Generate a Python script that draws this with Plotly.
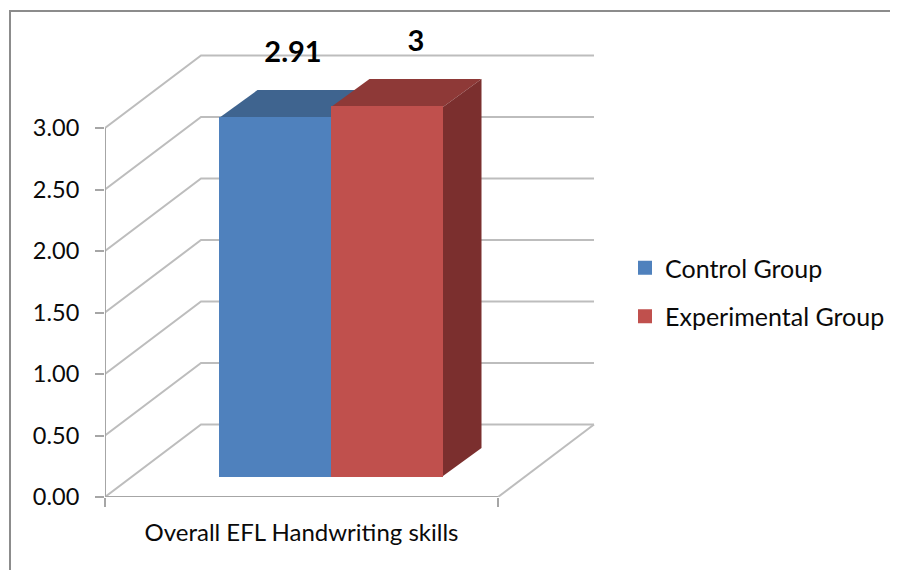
import plotly.graph_objects as go

# Data
categories = ["Overall EFL Handwriting skills"]
series_names = ["Control Group", "Experimental Group"]
series_values = [2.91, 3]
value_labels = ["2.91", "3"]
y_ticks = [0, 0.5, 1, 1.5, 2, 2.5, 3]
y_ticktext = ["0.00", "0.50", "1.00", "1.50", "2.00", "2.50", "3.00"]

# Styles
front = ["#4F81BD", "#C0504D"]
top = ["#3F648F", "#8E3937"]
side = ["#3A5F8A", "#7B2F2E"]
FONT = "Lato, Carlito, Calibri, sans-serif"
GRID = "#BDBDBD"
AXIS = "#A6A6A6"
INK = "#0A0A0A"

# The page body adds an 8 px margin, so figure pixels = reference pixels - 8
OFF = 8
W, H = 890, 562
PX_L, PX_R, PX_T, PX_B = 105 - OFF, 596 - OFF, 26 - OFF, 497 - OFF
XU, YU = 393.0, 123.0
x_range = [0, (PX_R - PX_L) / XU]
y_range = [0, (PX_B - PX_T) / YU]
wall_dx, wall_dy = 96 / XU, 72.5 / YU
bar_dx, bar_dy = 38.5 / XU, 28 / YU
bar_left, bar_w, bar_base = 114 / XU, 112 / XU, 21 / YU
lw = 1.0  # half bar outline, in px


def poly(xs, ys, **kw):
    d = "M" + "L".join(f"{a},{b}" for a, b in zip(xs, ys))
    return dict(type="path", path=d, xref="x", yref="y", layer="below", **kw)


shapes = []
# gridlines: side wall and back wall
for v in y_ticks:
    shapes.append(poly([0, wall_dx, 1 + wall_dx], [v, v + wall_dy, v + wall_dy],
                       line=dict(color=GRID, width=2)))
# floor right edge and front edge
shapes.append(poly([1, 1 + wall_dx], [0, wall_dy], line=dict(color=GRID, width=2)))
shapes.append(poly([0, 1], [0, 0], line=dict(color=AXIS, width=2)))
shapes.append(poly([0, 0], [0, y_ticks[-1]], line=dict(color=AXIS, width=2)))

# 3-D faces of the bars, from the values
for i, v in enumerate(series_values):
    x0 = bar_left + i * bar_w
    x1 = x0 + bar_w
    t = bar_base + v
    shapes.append(poly([x0, x1, x1 + bar_dx, x0 + bar_dx, x0],
                       [t, t, t + bar_dy, t + bar_dy, t],
                       fillcolor=top[i], line=dict(width=0)))
    shapes.append(poly([x1, x1 + bar_dx, x1 + bar_dx, x1, x1],
                       [t, t + bar_dy, bar_base + bar_dy, bar_base, t],
                       fillcolor=side[i], line=dict(width=0)))

# outer frame
fx = lambda p: (p - OFF - PX_L) / (PX_R - PX_L)
fy = lambda p: (PX_B - (p - OFF)) / (PX_B - PX_T)
shapes.append(dict(type="path", xref="paper", yref="paper", layer="below",
                   path=f"M{fx(10)},{fy(575)}L{fx(10)},{fy(11)}L{fx(905)},{fy(11)}",
                   line=dict(color="#8C8C8C", width=2)))

fig = go.Figure()
for i, (name, v) in enumerate(zip(series_names, series_values)):
    fig.add_trace(go.Bar(
        x=[bar_left + (i + 0.5) * bar_w], y=[v], base=bar_base, width=bar_w - 2 * lw / XU,
        name=name, legendgroup=name,
        marker=dict(color=front[i], line=dict(color=front[i], width=2 * lw)),
        hoverinfo="name+y",
    ))

label_dx = [18 / XU, 29 / XU]
label_dy = [63 / YU, 63 / YU]
fig.add_trace(go.Scatter(
    x=[bar_left + (i + 0.5) * bar_w + label_dx[i] for i in range(2)],
    y=[bar_base + v + label_dy[i] for i, v in enumerate(series_values)],
    mode="text", text=value_labels, showlegend=False, hoverinfo="skip",
    textfont=dict(family=FONT, size=29, color="black", weight="bold"),
    cliponaxis=False,
))

fig.update_layout(
    width=W, height=H, autosize=False,
    margin=dict(l=PX_L, r=W - PX_R, t=PX_T, b=H - PX_B, pad=0, autoexpand=False),
    paper_bgcolor="white", plot_bgcolor="rgba(0,0,0,0)",
    font=dict(family=FONT, size=23, color=INK),
    barmode="overlay", shapes=shapes,
    xaxis=dict(range=x_range, tickmode="array", tickvals=[0.5], ticktext=categories,
               ticks="outside", ticklen=14, tickcolor="rgba(0,0,0,0)", showgrid=False,
               zeroline=False, showline=False,
               tickfont=dict(family=FONT, size=24, color=INK),
               minor=dict(tickmode="array", tickvals=[0, 1], ticks="outside", ticklen=9,
                          tickwidth=2, tickcolor=AXIS, showgrid=False)),
    yaxis=dict(range=y_range, tickmode="array", tickvals=y_ticks, ticktext=y_ticktext,
               ticks="outside", ticklen=9, tickwidth=2, tickcolor=AXIS, showgrid=False,
               zeroline=False, showline=False, ticklabelstandoff=11,
               tickfont=dict(family=FONT, size=23.5, color=INK)),
    showlegend=True,
    legend=dict(x=(625 - OFF - PX_L) / (PX_R - PX_L), y=(PX_B - (245 - OFF)) / (PX_B - PX_T),
                xanchor="left", yanchor="top", traceorder="grouped", tracegroupgap=13,
                bgcolor="rgba(0,0,0,0)", font=dict(family=FONT, size=25, color=INK)),
)

fig.write_html("out.html")
